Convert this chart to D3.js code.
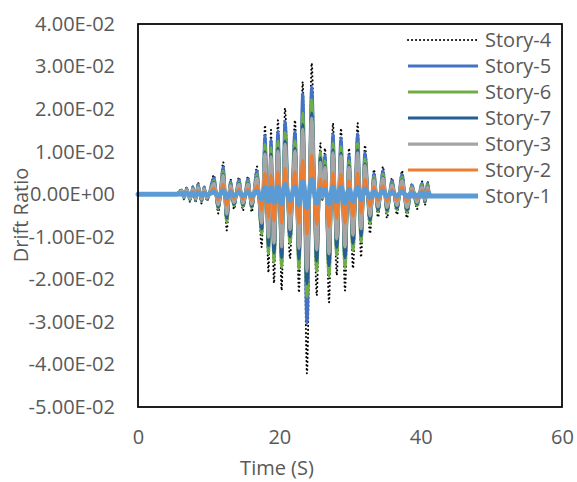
<!DOCTYPE html>
<html>
<head>
<meta charset="utf-8">
<script src="https://cdn.jsdelivr.net/npm/d3@7"></script>
<style>
  html, body { margin: 0; padding: 0; background: #fff; }
  svg { display: block; }
  text { font-family: "Open Sans", "Liberation Sans", sans-serif; fill: #595959; }
</style>
</head>
<body>
<svg id="chart" width="577" height="482"></svg>
<script>
// Time of each turning point of the response (s)
const time = [
  0, 5.4, 6.18, 6.51, 6.89, 7.36, 7.78, 8.16, 8.49, 9.01, 9.34,
  9.76, 10.75, 11.36, 12.07, 12.55, 13.09, 13.58, 14.29, 14.86, 15.57, 16.09,
  16.84, 17.5, 17.97, 18.47, 18.82, 19.24, 19.81, 20.33, 20.8, 21.51, 22.22,
  22.78, 23.31, 23.91, 24.58, 25.29, 25.82, 26.1, 26.46, 27.03, 27.59, 28.12,
  28.73, 29.29, 29.86, 30.42, 31.09, 31.56, 32.12, 32.83, 33.39, 33.96, 34.67,
  35.23, 35.94, 36.65, 37.36, 38.06, 38.77, 39.48, 40.19, 40.61, 40.97, 41.2
];

// Inter-story drift ratio at those times
const story4 = [
  0, 0, 0.0012, -0.0012, 0.0017, -0.0018, 0.0020, -0.0020, 0.0028, -0.0022, 0.0020,
  -0.0016, 0.0045, -0.0045, 0.0075, -0.0085, 0.0035, -0.0035, 0.0040, -0.0038, 0.0042, -0.0042,
  0.0065, -0.0124, 0.0162, -0.0184, 0.0151, -0.0209, 0.0174, -0.0226, 0.0202, -0.0151, 0.0174,
  -0.0231, 0.0264, -0.0421, 0.0308, -0.0238, 0.0120, -0.0015, 0.0108, -0.0254, 0.0167, -0.0190,
  0.0155, -0.0226, 0.0108, -0.0174, 0.0167, -0.0148, 0.0115, -0.0092, 0.0058, -0.0054, 0.0065,
  -0.0056, 0.0038, -0.0048, 0.0055, -0.0056, 0.0025, -0.0035, 0.0030, -0.0025, 0.0030, 0
];
const story5 = [
  0, 0, 0.0010, -0.0008, 0.0014, -0.0013, 0.0017, -0.0014, 0.0024, -0.0015, 0.0017,
  -0.0011, 0.0038, -0.0032, 0.0064, -0.0060, 0.0030, -0.0025, 0.0034, -0.0027, 0.0036, -0.0029,
  0.0055, -0.0087, 0.0138, -0.0129, 0.0128, -0.0146, 0.0148, -0.0158, 0.0172, -0.0106, 0.0148,
  -0.0162, 0.0236, -0.0303, 0.0252, -0.0167, 0.0095, -0.0010, 0.0092, -0.0178, 0.0142, -0.0133,
  0.0132, -0.0158, 0.0092, -0.0122, 0.0142, -0.0104, 0.0098, -0.0064, 0.0049, -0.0038, 0.0055,
  -0.0039, 0.0032, -0.0034, 0.0047, -0.0039, 0.0021, -0.0025, 0.0026, -0.0018, 0.0026, 0
];
const story6 = [
  0, 0, 0.0009, -0.0009, 0.0012, -0.0014, 0.0014, -0.0015, 0.0020, -0.0017, 0.0014,
  -0.0012, 0.0032, -0.0034, 0.0054, -0.0065, 0.0025, -0.0027, 0.0029, -0.0029, 0.0030, -0.0032,
  0.0047, -0.0094, 0.0117, -0.0140, 0.0109, -0.0159, 0.0125, -0.0172, 0.0145, -0.0115, 0.0125,
  -0.0176, 0.0190, -0.0240, 0.0222, -0.0181, 0.0100, -0.0011, 0.0078, -0.0193, 0.0120, -0.0144,
  0.0112, -0.0172, 0.0078, -0.0132, 0.0120, -0.0112, 0.0083, -0.0070, 0.0042, -0.0041, 0.0047,
  -0.0043, 0.0027, -0.0036, 0.0040, -0.0043, 0.0018, -0.0027, 0.0022, -0.0019, 0.0022, 0
];
const story7 = [
  0, 0, 0.0007, -0.0008, 0.0011, -0.0012, 0.0012, -0.0013, 0.0017, -0.0015, 0.0012,
  -0.0011, 0.0028, -0.0030, 0.0047, -0.0056, 0.0022, -0.0023, 0.0025, -0.0025, 0.0026, -0.0028,
  0.0040, -0.0082, 0.0100, -0.0121, 0.0094, -0.0138, 0.0108, -0.0149, 0.0125, -0.0100, 0.0108,
  -0.0152, 0.0164, -0.0211, 0.0191, -0.0157, 0.0085, -0.0010, 0.0067, -0.0168, 0.0104, -0.0125,
  0.0096, -0.0149, 0.0067, -0.0115, 0.0104, -0.0098, 0.0071, -0.0061, 0.0036, -0.0036, 0.0040,
  -0.0037, 0.0024, -0.0032, 0.0034, -0.0037, 0.0016, -0.0023, 0.0019, -0.0017, 0.0019, 0
];
const story3 = [
  0, 0, 0.0007, -0.0007, 0.0010, -0.0010, 0.0012, -0.0011, 0.0016, -0.0012, 0.0012,
  -0.0009, 0.0026, -0.0025, 0.0044, -0.0047, 0.0020, -0.0019, 0.0023, -0.0021, 0.0024, -0.0023,
  0.0038, -0.0068, 0.0094, -0.0101, 0.0088, -0.0115, 0.0101, -0.0124, 0.0117, -0.0083, 0.0101,
  -0.0127, 0.0153, -0.0181, 0.0179, -0.0131, 0.0075, -0.0008, 0.0063, -0.0140, 0.0097, -0.0105,
  0.0090, -0.0124, 0.0063, -0.0096, 0.0097, -0.0081, 0.0067, -0.0051, 0.0034, -0.0030, 0.0038,
  -0.0031, 0.0022, -0.0026, 0.0032, -0.0031, 0.0015, -0.0019, 0.0017, -0.0014, 0.0017, 0
];
const story2 = [
  0, 0, 0.0004, -0.0004, 0.0005, -0.0005, 0.0006, -0.0006, 0.0008, -0.0007, 0.0006,
  -0.0005, 0.0014, -0.0014, 0.0023, -0.0026, 0.0011, -0.0011, 0.0012, -0.0011, 0.0013, -0.0013,
  0.0020, -0.0037, 0.0049, -0.0055, 0.0045, -0.0063, 0.0052, -0.0068, 0.0061, -0.0045, 0.0052,
  -0.0069, 0.0079, -0.0093, 0.0092, -0.0071, 0.0036, -0.0005, 0.0032, -0.0076, 0.0050, -0.0057,
  0.0047, -0.0068, 0.0032, -0.0052, 0.0050, -0.0044, 0.0035, -0.0028, 0.0017, -0.0016, 0.0020,
  -0.0017, 0.0011, -0.0014, 0.0017, -0.0017, 0.0008, -0.0011, 0.0009, -0.0008, 0.0009, 0
];
const story1 = [
  0, 0, 0.0001, -0.0001, 0.0002, -0.0002, 0.0002, -0.0002, 0.0003, -0.0002, 0.0002,
  -0.0001, 0.0005, -0.0004, 0.0008, -0.0008, 0.0004, -0.0003, 0.0004, -0.0003, 0.0004, -0.0004,
  0.0007, -0.0011, 0.0016, -0.0017, 0.0015, -0.0019, 0.0017, -0.0023, 0.0023, -0.0014, 0.0017,
  -0.0024, 0.0030, -0.0032, 0.0036, -0.0021, 0.0012, -0.0001, 0.0011, -0.0023, 0.0017, -0.0017,
  0.0016, -0.0020, 0.0011, -0.0016, 0.0017, -0.0013, 0.0012, -0.0008, 0.0006, -0.0005, 0.0007,
  -0.0005, 0.0004, -0.0004, 0.0006, -0.0005, 0.0003, -0.0003, 0.0003, -0.0002, 0.0003, 0
];

const seriesNames = ["Story-4", "Story-5", "Story-6", "Story-7", "Story-3", "Story-2", "Story-1"];
const seriesValues = [story4, story5, story6, story7, story3, story2, story1];
const seriesColors = ["#000000", "#4472C4", "#70AD47", "#255E91", "#A5A5A5", "#ED7D31", "#5B9BD5"];
const seriesWidths = [2, 3, 3, 3, 3.25, 3, 5];

const xTicks = [0, 20, 40, 60];
const yTicks = [0.04, 0.03, 0.02, 0.01, 0, -0.01, -0.02, -0.03, -0.04, -0.05];
const xTitle = "Time (S)";
const yTitle = "Drift Ratio";

// Plot area
const plot = { left: 138, right: 562, top: 24, bottom: 407 };

const svg = d3.select("#chart");
svg.append("rect").attr("width", 577).attr("height", 482).attr("fill", "#fff");

const x = d3.scaleLinear().domain([0, 60]).range([plot.left, plot.right]);
const y = d3.scaleLinear().domain([-0.05, 0.04]).range([plot.bottom, plot.top]);

// Scientific tick labels in the 0.00E+00 style
function sci(v) {
  if (Math.abs(v) < 1e-12) return "0.00E+00";
  let e = Math.floor(Math.log10(Math.abs(v)) + 1e-9);
  let m = v / Math.pow(10, e);
  if (Math.abs(m) >= 9.995) { e += 1; m = v / Math.pow(10, e); }
  const sign = e < 0 ? "-" : "+";
  return m.toFixed(2) + "E" + sign + String(Math.abs(e)).padStart(2, "0");
}

const yAxis = svg.append("g")
  .attr("transform", `translate(${plot.left - 23},0)`)
  .call(d3.axisLeft(y).tickValues(yTicks).tickSize(0).tickPadding(0).tickFormat(sci));
yAxis.select(".domain").remove();
yAxis.selectAll("text")
  .attr("font-size", 20)
  .attr("fill", "#595959")
  .style("font-family", '"Open Sans", "Liberation Sans", sans-serif');

const xAxis = svg.append("g")
  .attr("transform", `translate(0,${plot.bottom + 23})`)
  .call(d3.axisBottom(x).tickValues(xTicks).tickSize(0).tickPadding(0).tickFormat(d3.format("d")));
xAxis.select(".domain").remove();
xAxis.selectAll("text")
  .attr("font-size", 20)
  .attr("fill", "#595959")
  .style("font-family", '"Open Sans", "Liberation Sans", sans-serif');

// Axis titles
svg.append("text")
  .attr("x", 277).attr("y", 475)
  .attr("text-anchor", "middle")
  .attr("font-size", 20)
  .text(xTitle);

svg.append("text")
  .attr("transform", "translate(28,215) rotate(-90)")
  .attr("text-anchor", "middle")
  .attr("font-size", 20)
  .text(yTitle);

// Series lines
const line = d3.line()
  .x(d => x(d[0]))
  .y(d => y(d[1]))
  .curve(d3.curveMonotoneX);

const gLines = svg.append("g");
seriesValues.forEach((vals, i) => {
  const pts = time.map((t, k) => [t, vals[k]]);
  const path = gLines.append("path")
    .attr("d", line(pts))
    .attr("fill", "none")
    .attr("stroke", seriesColors[i])
    .attr("stroke-width", seriesWidths[i])
    .attr("stroke-linejoin", "round");
  if (i === 0) {
    path.attr("stroke-dasharray", "0.1 3.9").attr("stroke-linecap", "round");
  } else {
    path.attr("stroke-linecap", "round");
  }
});

// Plot area border
svg.append("rect")
  .attr("x", plot.left).attr("y", plot.top)
  .attr("width", plot.right - plot.left).attr("height", plot.bottom - plot.top)
  .attr("fill", "none").attr("stroke", "#000").attr("stroke-width", 1.75);

// Legend
const legend = svg.append("g");
seriesNames.forEach((name, i) => {
  const cy = 40 + i * 26;
  const l = legend.append("line")
    .attr("x1", 408).attr("x2", 478)
    .attr("y1", cy).attr("y2", cy)
    .attr("stroke", seriesColors[i])
    .attr("stroke-width", seriesWidths[i]);
  if (i === 0) l.attr("stroke-dasharray", "0.1 3.9").attr("stroke-linecap", "round");
  legend.append("text")
    .attr("x", 485).attr("y", cy)
    .attr("dy", "0.35em")
    .attr("font-size", 20)
    .text(name);
});
</script>
</body>
</html>
